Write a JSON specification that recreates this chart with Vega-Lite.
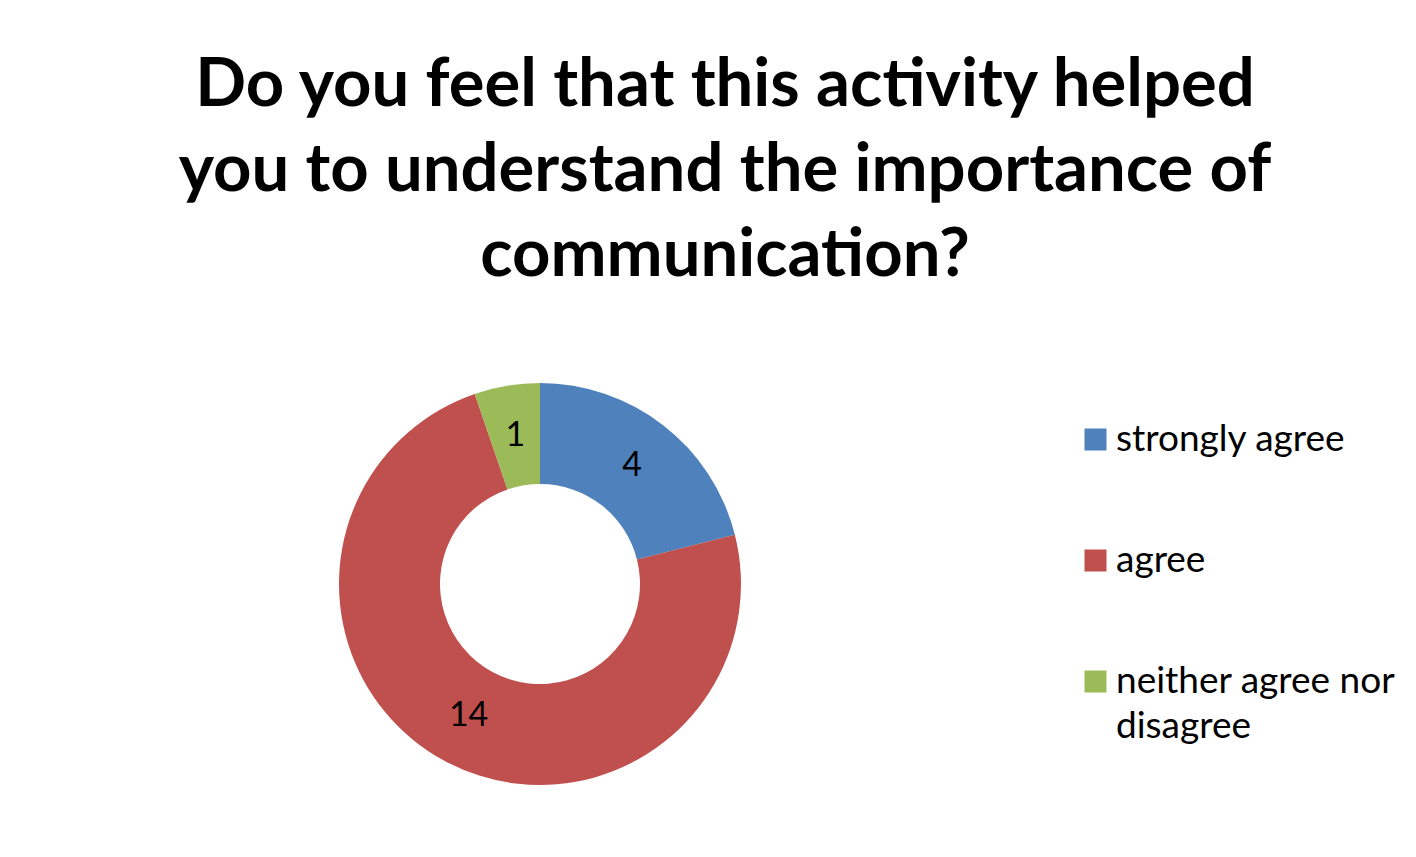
{
  "$schema": "https://vega.github.io/schema/vega-lite/v6.json",
  "autosize": "none",
  "width": 402,
  "height": 402,
  "padding": {"left": 339, "top": 383, "right": 675, "bottom": 72},
  "background": "white",
  "title": {
    "text": ["Do you feel that this activity helped", "you to understand the importance of", "communication?"],
    "font": "Lato",
    "fontSize": 67,
    "fontWeight": "bold",
    "color": "#000000",
    "lineHeight": 85,
    "anchor": "middle",
    "frame": "group",
    "dx": 185,
    "offset": 93
  },
  "data": {
    "values": [
      {"response": "strongly agree", "count": 4, "rank": 1},
      {"response": "agree", "count": 14, "rank": 2},
      {"response": "neither agree nor disagree", "count": 1, "rank": 3}
    ]
  },
  "encoding": {
    "theta": {"field": "count", "type": "quantitative", "stack": true},
    "order": {"field": "rank", "type": "quantitative"},
    "color": {
      "field": "response",
      "type": "nominal",
      "sort": ["strongly agree", "agree", "neither agree nor disagree"],
      "scale": {
        "domain": ["strongly agree", "agree", "neither agree nor disagree"],
        "range": ["#4F81BD", "#C0504D", "#9BBB59"]
      },
      "legend": {
        "title": null,
        "orient": "none",
        "legendX": 738,
        "legendY": 38,
        "padding": 0,
        "symbolType": "square",
        "symbolSize": 484,
        "symbolStrokeWidth": 0,
        "labelFont": "Lato",
        "labelFontSize": 37,
        "labelColor": "#000000",
        "labelOffset": 2,
        "labelLimit": 400,
        "rowPadding": 83,
        "labelBaseline": "alphabetic",
        "labelExpr": "datum.label == 'neither agree nor disagree' ? ['neither agree nor', 'disagree'] : datum.label",
        "encode": {"labels": {"update": {"dy": {"value": 11}, "lineHeight": {"value": 45}}}}
      }
    }
  },
  "layer": [
    {
      "mark": {"type": "arc", "innerRadius": 100, "outerRadius": 201}
    },
    {
      "mark": {"type": "text", "radius": 150, "font": "Lato", "fontSize": 34, "color": "#000000"},
      "encoding": {
        "text": {"field": "count", "type": "quantitative"},
        "color": {"value": "#000000"}
      }
    }
  ],
  "config": {"view": {"stroke": null}}
}
